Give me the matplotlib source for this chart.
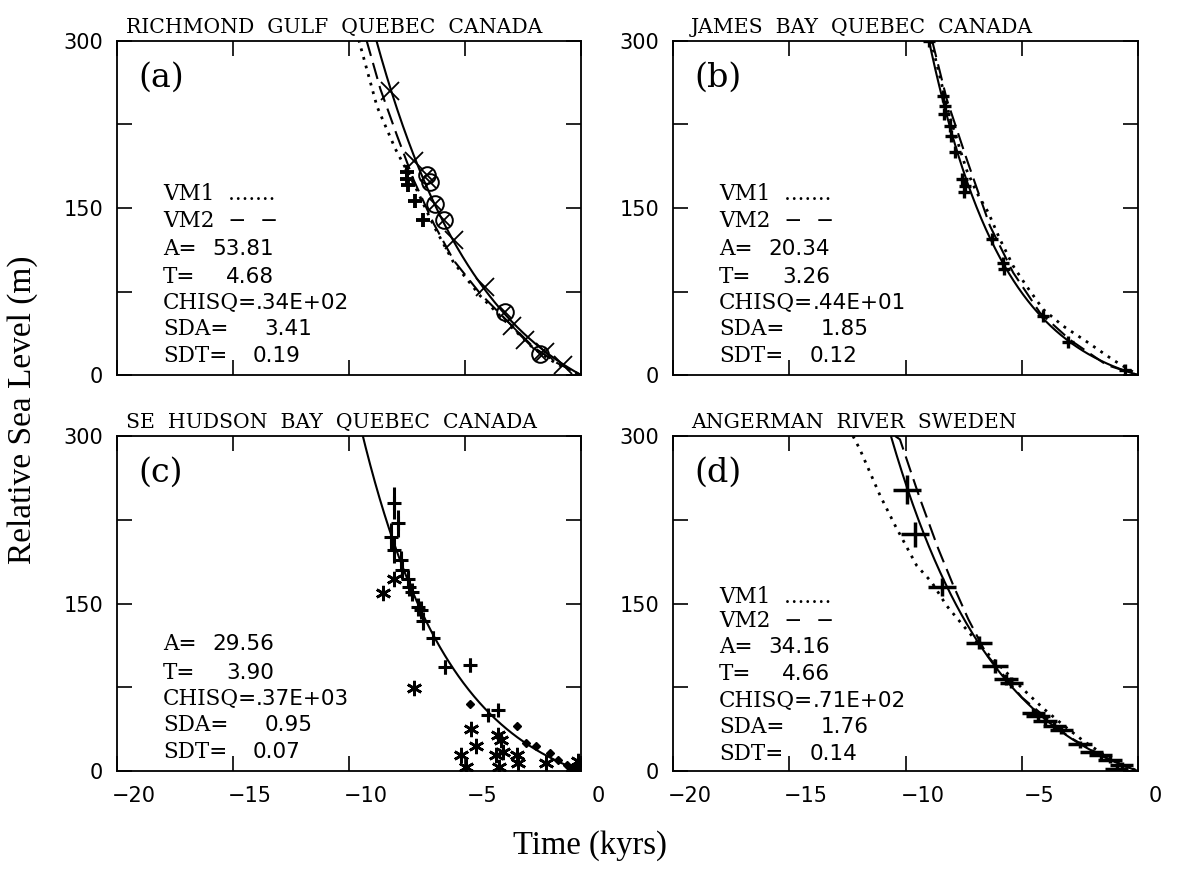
import numpy as np
import matplotlib
matplotlib.use("Agg")
import matplotlib.pyplot as plt
import matplotlib.transforms as mtrans

# ---------------- data ----------------
titles = ["RICHMOND  GULF  QUEBEC  CANADA", "JAMES  BAY  QUEBEC  CANADA",
          "SE  HUDSON  BAY  QUEBEC  CANADA", "ANGERMAN  RIVER  SWEDEN"]
panel_tags = ["(a)", "(b)", "(c)", "(d)"]

# exponential fit parameters per site
fit_A = [53.81, 20.34, 29.56, 34.16]
fit_T = [4.68, 3.26, 3.90, 4.66]
fit_chisq = [".34E+02", ".44E+01", ".37E+03", ".71E+02"]
fit_sda = ["3.41", "1.85", "0.95", "1.76"]
fit_sdt = ["0.19", "0.12", "0.07", "0.14"]

xticks = [-20, -15, -10, -5, 0]
yticks = [0, 150, 300]

# (a) Richmond Gulf
a_cross_t = [-8.25, -7.21, -5.49, -4.13, -2.98, -2.41, -1.55, -0.76]
a_cross_rsl = [255, 192, 121, 79, 44, 31, 20.6, 8.6]
a_circ_t = [-6.62, -6.50, -6.28, -5.92, -3.27, -1.76]
a_circ_rsl = [180, 173, 154, 139, 57, 19]
a_plus_t = [-7.52, -7.48, -7.45, -7.14, -6.81]
a_plus_rsl = [182, 176, 171, 156, 139]
a_vm1_t = [-9.58, -8.79, -8.0, -7.21, -6.35, -5.49, -4.34, -3.2, -2.05, -1.05, 0]
a_vm1_rsl = [301, 241, 203, 172, 134, 101, 71, 47, 24, 10, 0]
a_vm2_t = [-9.25, -8.65, -7.93, -7.21, -6.35, -5.49, -4.34, -3.2, -2.05, -1.05, 0]
a_vm2_rsl = [301, 257, 215, 175, 136, 103, 73, 49, 25, 11, 0]

# (b) James Bay
b_t = [-9.0, -8.37, -8.3, -8.35, -8.09, -8.05, -7.87, -7.58, -7.44, -7.5,
       -6.3, -5.8, -5.75, -4.07, -3.0, -0.56]
b_rsl = [300, 251, 242, 234, 224, 215, 200, 176, 170, 164,
         122, 101, 95, 53, 30, 4.5]
b_vm1_t = [-8.9, -8.1, -7.37, -6.94, -6.44, -5.94, -5.37, -4.8, -4.08, -3.22, -2.21, -1.07, 0]
b_vm1_rsl = [300, 232, 184, 164, 146, 122, 98, 80, 59, 44, 30, 13.5, 0]
b_vm2_t = [-8.85, -8.66, -8.23, -7.37, -6.37, -5.37, -4.22, -2.92, -1.35, 0]
b_vm2_rsl = [300, 284, 248, 194, 134, 92, 56, 31.5, 9, 0]

# (c) SE Hudson Bay
c_plus_t = [-8.08, -7.89, -8.21, -8.08, -7.75, -7.70, -7.46, -7.40, -7.30,
            -7.03, -6.90, -6.81, -6.38, -5.88, -4.80, -4.01, -3.58]
c_plus_rsl = [240, 222, 210, 198, 189, 180, 172, 165, 160,
              147, 144, 134, 119, 93, 95, 50, 55]
c_plus_err = [14, 12, 12, 12, 8, 8, 8, 8, 8, 8, 8, 8, 6, 6, 6, 5, 5]
c_star_t = [-8.54, -8.05, -7.20, -4.73, -4.51, -5.16, -4.94, -3.58, -3.44,
            -3.66, -3.37, -3.52, -2.78, -2.71, -1.49, -0.11]
c_star_rsl = [159, 172, 74, 38, 22, 14, 4, 32, 28, 14, 17, 4, 14, 7, 7, 9]
c_dia_t = [-4.80, -2.78, -2.35, -1.92, -1.35, -1.0, -0.62, -0.45, -0.33, -0.2, -0.1]
c_dia_rsl = [60, 40, 25, 22, 16, 10, 5, 3, 4, 2, 6]

# (d) Angerman River
d_t = [-9.92, -9.59, -8.44, -6.83, -6.15, -5.68, -5.45, -4.5, -4.3, -4.0,
       -3.6, -3.3, -2.5, -2.0, -1.6, -1.2, -0.7, -0.92]
d_rsl = [252, 212, 165, 115, 94, 82, 79, 52, 49, 45,
         40, 37, 24, 17, 14, 10, 5, 1.5]
d_yerr = [13, 11, 8, 6, 6, 5, 5, 4, 4, 4, 4, 4, 3, 3, 3, 3, 3, 3]
d_xerr = [0.6, 0.6, 0.6, 0.55, 0.55, 0.5, 0.5, 0.5, 0.5, 0.5,
          0.5, 0.5, 0.5, 0.5, 0.5, 0.5, 0.5, 0.5]
d_vm1_t = [-12.26, -11.96, -11.1, -10.45, -9.52, -8.87, -8.23, -7.51, -6.65,
           -5.79, -4.93, -4.07, -3.21, -2.35, -1.49, -0.63, 0]
d_vm1_rsl = [300, 288, 247, 220, 184, 169, 148, 130, 109, 91, 73, 56, 41, 27, 15, 5, 0]
d_vm2_t = [-10.45, -10.24, -9.38, -8.59, -7.94, -7.3, -6.5, -5.0, -3.0, -1.5, 0]
d_vm2_rsl = [300, 297, 244, 199, 166, 136, 104, 66, 31, 13, 0]

# ---------------- layout ----------------
W, H = 1178, 885
fig = plt.figure(figsize=(W / 100, H / 100), dpi=100)


def rect(left, top, right, bottom):
    return [left / W, 1 - bottom / H, (right - left) / W, (bottom - top) / H]


rects = [rect(117, 41, 581, 375), rect(673, 41, 1138, 375),
         rect(117, 436, 581, 771), rect(673, 436, 1138, 771)]
axes = [fig.add_axes(r) for r in rects]

SERIF = "DejaVu Serif"
SANS = "DejaVu Sans"
solid_kw = dict(color="black", lw=1.5)
vm1_kw = dict(color="black", lw=2.0, linestyle=(0, (1, 2.2)))
vm2_kw = dict(color="black", lw=1.5, linestyle=(0, (8, 3.5)))

t_curve = np.linspace(-20, 0, 600)

for i, ax in enumerate(axes):
    ax.set_xlim(-20, 0)
    ax.set_ylim(0, 300)
    ax.set_xticks(xticks)
    ax.set_yticks(yticks)
    ax.set_yticks([75, 225], minor=True)
    ax.tick_params(which="both", direction="in", length=10.8, width=1.2,
                   top=True, right=True)
    ax.tick_params(axis="y", pad=10, labelsize=15)
    ax.tick_params(axis="x", pad=11, labelsize=15)
    for lab in ax.get_yticklabels() + ax.get_xticklabels():
        lab.set_family(SANS)
    for sp in ax.spines.values():
        sp.set_linewidth(1.3)
    if i < 2:
        ax.tick_params(labelbottom=False)
    else:
        shift = mtrans.ScaledTranslation(0.17, 0, fig.dpi_scale_trans)
        for lab in ax.xaxis.get_majorticklabels():
            lab.set_transform(lab.get_transform() + shift)

    # fitted exponential
    rsl_fit = fit_A[i] * (np.exp(-t_curve / fit_T[i]) - 1)
    ax.plot(t_curve, rsl_fit, **solid_kw)

    # title and panel tag
    tx = 0.02 if i % 2 == 0 else 0.038
    ax.text(tx, 1.024, titles[i], transform=ax.transAxes, ha="left",
            va="baseline", fontsize=14.7, family=SERIF)
    ax.text(0.047, 0.889, panel_tags[i], transform=ax.transAxes, ha="left",
            va="center", fontsize=24, family=SERIF)

# model curves
axes[0].plot(a_vm1_t, a_vm1_rsl, **vm1_kw)
axes[0].plot(a_vm2_t, a_vm2_rsl, **vm2_kw)
axes[1].plot(b_vm1_t, b_vm1_rsl, **vm1_kw)
axes[1].plot(b_vm2_t, b_vm2_rsl, **vm2_kw)
axes[3].plot(d_vm1_t, d_vm1_rsl, **vm1_kw)
axes[3].plot(d_vm2_t, d_vm2_rsl, **vm2_kw)

# observations
ax = axes[0]
ax.plot(a_cross_t, a_cross_rsl, "x", color="black", ms=13, mew=1.3)
ax.plot(a_circ_t, a_circ_rsl, "o", mfc="none", mec="black", ms=12, mew=1.4)
ax.plot(a_circ_t, a_circ_rsl, "x", color="black", ms=8, mew=1.3)
ax.plot(a_plus_t, a_plus_rsl, "+", color="black", ms=10, mew=2.8)

ax = axes[1]
ax.plot(b_t, b_rsl, "+", color="black", ms=9, mew=2.4)

ax = axes[2]
ax.errorbar(c_plus_t, c_plus_rsl, yerr=c_plus_err, fmt="+", color="black",
            ms=10, mew=2.2, elinewidth=2.2, capsize=0)
ax.plot(c_star_t, c_star_rsl, marker=(6, 2, 0), ls="none", color="black",
        ms=11, mew=1.9)
ax.plot(c_dia_t, c_dia_rsl, "D", color="black", ms=4.5)

ax = axes[3]
ax.errorbar(d_t, d_rsl, xerr=d_xerr, yerr=d_yerr, fmt="none", ecolor="black",
            elinewidth=2.5, capsize=0)

# statistics blocks
rows_full = [0.543, 0.462, 0.378, 0.294, 0.216, 0.138, 0.057]
rows_d = [0.518, 0.447, 0.369, 0.289, 0.208, 0.130, 0.050]
row_sets = [rows_full, rows_full, rows_full, rows_d]
LX = 0.099
for i, ax in enumerate(axes):
    rows = row_sets[i]
    kw = dict(transform=ax.transAxes, va="center", fontsize=15.5)
    if i != 2:
        ax.text(LX, rows[0], "VM1  .......", ha="left", family=SERIF, **kw)
        ax.text(LX, rows[1], "VM2  \u2212  \u2212", ha="left", family=SERIF, **kw)
    ax.text(LX, rows[2], "A=", ha="left", family=SERIF, **kw)
    ax.text(0.338, rows[2], f"{fit_A[i]:.2f}", ha="right", family=SANS, **kw)
    ax.text(LX, rows[3], "T=", ha="left", family=SERIF, **kw)
    ax.text(0.338, rows[3], f"{fit_T[i]:.2f}", ha="right", family=SANS, **kw)
    ax.text(LX, rows[4], "CHISQ=", ha="left", family=SERIF, **kw)
    ax.text(0.300, rows[4], fit_chisq[i], ha="left", family=SANS, **kw)
    ax.text(LX, rows[5], "SDA=", ha="left", family=SERIF, **kw)
    ax.text(0.421, rows[5], fit_sda[i], ha="right", family=SANS, **kw)
    ax.text(LX, rows[6], "SDT=", ha="left", family=SERIF, **kw)
    ax.text(0.396, rows[6], fit_sdt[i], ha="right", family=SANS, **kw)

fig.text(0.019, 0.537, "Relative Sea Level (m)", rotation=90, ha="center",
         va="center", fontsize=24, family="Liberation Serif")
fig.text(0.501, 0.045, "Time (kyrs)", ha="center", va="center", fontsize=23.5,
         family="Liberation Serif")

fig.savefig("out.png", dpi=100)
